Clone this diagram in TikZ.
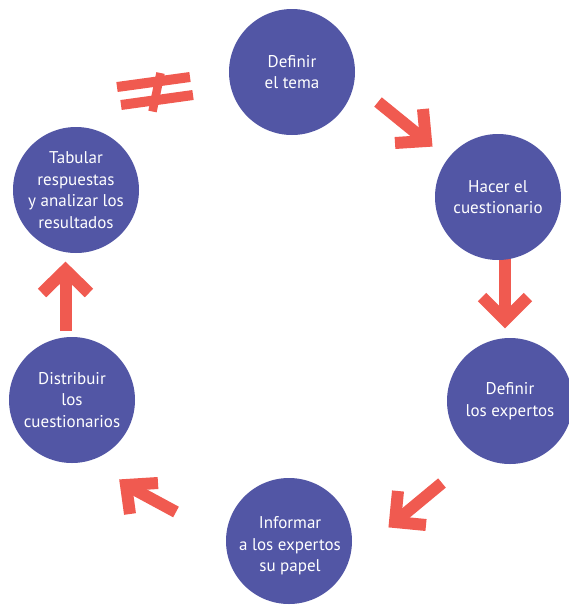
\documentclass[tikz,border=0pt]{standalone}
\usepackage{fontspec}
\setmainfont{PT Sans}
\definecolor{circblue}{HTML}{5256A5}
\definecolor{arrred}{HTML}{F05A50}
\begin{document}
\begin{tikzpicture}[x=1pt,y=-1pt,
  circtext/.style={text=white, align=center, inner sep=0pt, font=\fontsize{17}{21.5}\selectfont},
  circ/.style={circle, fill=circblue, minimum size=126pt, circtext},
  arr/.style={draw=arrred, line width=12pt, line join=miter, line cap=butt, miter limit=10},
  neq/.style={draw=arrred, line width=10pt, line cap=butt}]
\clip (0,0) rectangle (569,606);
% arrow coordinates
\coordinate (a1s) at (378,102); \coordinate (a1t) at (426,141); \coordinate (a1a) at (423,109); \coordinate (a1b) at (395,143);
\coordinate (a2s) at (505,250); \coordinate (a2t) at (505,320); \coordinate (a2a) at (482,297); \coordinate (a2b) at (528,297);
\coordinate (a3s) at (442,483); \coordinate (a3t) at (395,522); \coordinate (a3a) at (398,491); \coordinate (a3b) at (426,525);
\coordinate (a4s) at (176,512); \coordinate (a4t) at (126,485); \coordinate (a4a) at (158,483); \coordinate (a4b) at (130,514);
\coordinate (a5s) at (65.5,331); \coordinate (a5t) at (65.5,270); \coordinate (a5a) at (42,293); \coordinate (a5b) at (89,293);
\foreach \i in {1,...,5}{
  \draw[arr] (a\i s) -- (a\i t);
  \draw[arr] (a\i a) -- (a\i t) -- (a\i b);
}
% not-equal sign
\coordinate (t1) at (117,87); \coordinate (t2) at (190,77);
\coordinate (b1) at (121,105); \coordinate (b2) at (193,95);
\coordinate (c1) at (160.5,73); \coordinate (c2) at (152.5,111.5);
\draw[neq] (t1) -- (t2);
\draw[neq] (b1) -- (b2);
\draw[neq, line width=8.5pt] (c1) -- (c2);
% circles
\node[circ] (n1) at (292,72) {Definir\\el tema};
\node[circ] (n2) at (498,197) {Hacer el\\cuestionario};
\node[circ] (n3) at (510,401) {Definir\\los expertos};
\node[circ] (n4) at (289,541) {};
\node[circtext] (n4t) at (290,546) {Informar\\a los expertos\\su papel};
\node[circ] (n5) at (72,400) {Distribuir\\los\\cuestionarios};
\node[circ] (n6) at (76,190) {Tabular\\respuestas\\y analizar los\\resultados};
\end{tikzpicture}
\end{document}
